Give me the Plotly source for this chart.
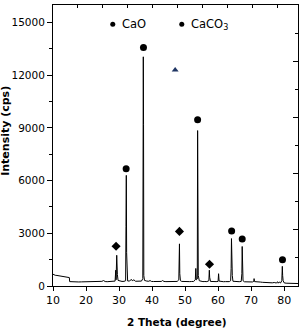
import plotly.graph_objects as go

# ---- data ----
two_theta = [10.0, 10.3, 10.7, 11.2, 11.8, 12.5, 13.2, 13.9, 14.5, 14.95, 15.05, 15.6, 16.3, 17.0, 17.8,
             18.6, 19.4, 20.2, 21.0, 21.8, 22.6, 23.4, 24.2, 24.8, 25.3, 25.8, 26.4, 27.0, 27.6, 28.2,
             28.8, 29.0, 29.1, 29.3, 29.4, 29.5, 29.7, 30.3, 30.9, 31.5, 32.0, 32.1, 32.2, 32.3, 32.45,
             32.6, 33.2, 33.7, 34.0, 34.5, 35.0, 35.6, 36.2, 36.8, 37.2, 37.35, 37.42, 37.5, 37.7, 38.4,
             39.0, 39.4, 39.8, 40.4, 41.0, 41.6, 42.2, 42.8, 43.2, 43.6, 44.2, 44.8, 45.4, 46.0, 46.6,
             47.1, 47.6, 48.1, 48.3, 48.4, 48.6, 49.0, 49.6, 50.2, 51.4, 52.0, 52.6, 53.1, 53.25, 53.4,
             53.7, 53.8, 53.9, 54.0, 54.3, 54.8, 55.4, 56.0, 56.6, 57.2, 57.35, 57.45, 57.7, 58.2, 58.8,
             59.4, 60.0, 60.15, 60.3, 61.0, 61.6, 62.2, 62.8, 63.4, 63.8, 63.95, 64.05, 64.15, 64.3, 64.5,
             65.2, 65.8, 66.4, 67.0, 67.2, 67.3, 67.4, 67.55, 68.0, 68.6, 69.2, 69.8, 70.4, 70.8, 70.9,
             71.05, 71.6, 72.2, 72.8, 73.4, 74.0, 74.6, 75.2, 75.8, 76.4, 77.0, 77.6, 78.0, 78.2, 78.5,
             78.9, 79.3, 79.45, 79.55, 79.7, 80.0, 80.6, 81.2, 81.8, 82.4, 83.0, 83.6, 84.2]
intensity = [670, 640, 610, 600, 580, 560, 540, 520, 500, 480, 250, 240, 235, 240, 230,
             235, 240, 230, 235, 240, 230, 245, 240, 265, 310, 255, 245, 250, 240, 255,
             280, 900, 350, 1750, 700, 650, 320, 270, 260, 265, 300, 3400, 6300, 1900, 400,
             290, 280, 380, 300, 350, 270, 265, 260, 280, 420, 13050, 9200, 600, 320, 280,
             270, 310, 260, 255, 260, 250, 255, 260, 310, 260, 250, 255, 250, 255, 260,
             290, 260, 350, 2400, 700, 300, 260, 250, 255, 250, 255, 260, 350, 1000, 350,
             400, 8850, 3650, 600, 300, 260, 250, 255, 250, 300, 900, 500, 260, 250, 245,
             250, 260, 700, 280, 250, 245, 250, 245, 250, 300, 1000, 2700, 1200, 600, 270,
             250, 240, 245, 260, 700, 2250, 900, 300, 240, 230, 235, 225, 230, 260, 420,
             250, 230, 220, 225, 210, 200, 215, 190, 205, 180, 200, 170, 240, 160, 230,
             170, 300, 1120, 600, 300, 180, 160, 150, 155, 145, 150, 140, 140]

cao_x = [32.15, 37.4, 53.8, 64.1, 67.3, 79.5]
cao_y = [6680, 13575, 9470, 3130, 2680, 1500]
caco3_x = [29.1, 48.3, 57.4]
caco3_y = [2260, 3110, 1235]
tri_x = [47.0]
tri_y = [12300]
legend_x = [28.1, 49.0]
legend_y = [14900, 14900]
legend_labels = ["CaO", "CaCO<sub>3</sub>"]

x_title = "2 Theta (degree)"
y_title = "Intensity (cps)"

FONT = "DejaVu Sans"

fig = go.Figure()
fig.add_trace(go.Scatter(x=two_theta, y=intensity, mode="lines",
                         line=dict(color="black", width=1), showlegend=False, hoverinfo="skip"))
fig.add_trace(go.Scatter(x=cao_x, y=cao_y, mode="markers",
                         marker=dict(symbol="circle", size=7, color="black"), showlegend=False))
fig.add_trace(go.Scatter(x=caco3_x, y=caco3_y, mode="markers",
                         marker=dict(symbol="diamond", size=7, color="black"), showlegend=False))
fig.add_trace(go.Scatter(x=tri_x, y=tri_y, mode="markers",
                         marker=dict(symbol="triangle-up", size=6, color="#1f3563"), showlegend=False))
fig.add_trace(go.Scatter(x=legend_x, y=legend_y, mode="markers",
                         marker=dict(symbol="circle", size=5, color="black"), showlegend=False))
# dummy trace to activate top/right axes
fig.add_trace(go.Scatter(x=[10], y=[0], xaxis="x2", yaxis="y2", mode="markers",
                         marker=dict(opacity=0), showlegend=False, hoverinfo="skip"))

for lx, ly, lab in zip(legend_x, legend_y, legend_labels):
    fig.add_annotation(x=lx + 2.1, y=ly, text=lab, showarrow=False, xanchor="left", yanchor="middle",
                       font=dict(family=FONT, size=11.5, color="black"))

fig.add_annotation(x=0.506, y=-0.128, xref="paper", yref="paper", text="<b>" + x_title + "</b>",
                   showarrow=False, xanchor="center", yanchor="middle",
                   font=dict(family=FONT, size=10.5, color="black"))
fig.add_annotation(x=-0.192, y=0.552, xref="paper", yref="paper", text="<b>" + y_title + "</b>",
                   textangle=-90, showarrow=False, xanchor="center", yanchor="middle",
                   font=dict(family=FONT, size=11, color="black"))

fig.update_layout(
    width=301, height=332,
    margin=dict(l=53, r=3, t=5, b=46),
    paper_bgcolor="white", plot_bgcolor="white",
    font=dict(family=FONT, size=10.5, color="black"),
    xaxis=dict(range=[10, 84.2], tick0=10, dtick=10, ticks="outside", ticklen=4, tickwidth=1,
               tickcolor="black", showline=True, linecolor="black", linewidth=1,
               showgrid=False, zeroline=False, tickfont=dict(family=FONT, size=11)),
    yaxis=dict(range=[0, 16000], tick0=0, dtick=3000, tickformat="d", ticks="outside", ticklen=5,
               tickwidth=1, tickcolor="black", showline=True, linecolor="black", linewidth=1,
               showgrid=False, zeroline=False, tickfont=dict(family=FONT, size=10.5),
               minor=dict(dtick=1500, ticks="outside", ticklen=3, tickcolor="black")),
    xaxis2=dict(range=[10, 84.2], overlaying="x", side="top", tick0=10, dtick=7.55,
                ticks="inside", ticklen=3, tickcolor="black", showticklabels=False,
                showline=True, linecolor="black", linewidth=1, showgrid=False, zeroline=False),
    yaxis2=dict(range=[0, 16000], overlaying="y", side="right", tick0=0, dtick=3200,
                ticks="inside", ticklen=5, tickcolor="black", showticklabels=False,
                showline=True, linecolor="black", linewidth=1, showgrid=False, zeroline=False,
                minor=dict(dtick=1600, ticks="inside", ticklen=3, tickcolor="black")),
)

fig.write_html("out.html")
